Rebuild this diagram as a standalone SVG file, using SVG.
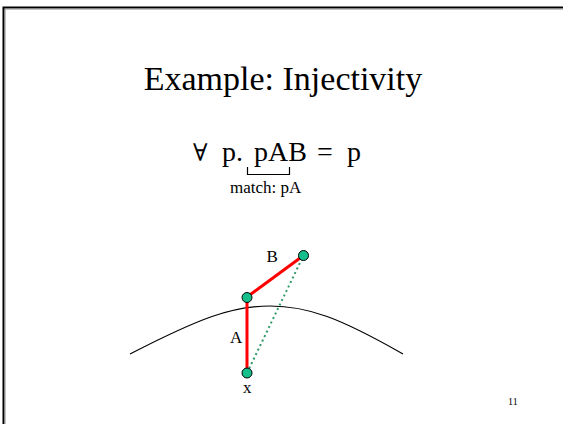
<svg xmlns="http://www.w3.org/2000/svg" width="563" height="424" viewBox="0 0 563 424">
<style>
.t{font-family:"Liberation Serif","Times New Roman",serif;fill:#000}
.node{fill:#14bf8c;stroke:#000;stroke-width:1}
.red{stroke:#ff0000;stroke-width:3;fill:none}
.dot{stroke:#2e9a68;stroke-width:2;stroke-dasharray:2 3;fill:none}
</style>
<rect width="563" height="424" fill="#fff"/>
<g id="frame" fill="none">
<path d="M3.5,424 V7.5 H563" stroke="#000" stroke-width="2"/>
<path d="M5,424 V9 H563" stroke="#888" stroke-width="1"/>
</g>
<g id="title"><text class="t" x="283" y="90" font-size="34" text-anchor="middle">Example: Injectivity</text></g>
<g id="formula">
<text class="t" font-size="28" y="161"><tspan x="193" font-family="DejaVu Serif, serif" font-size="24">∀</tspan><tspan x="222">p.</tspan><tspan x="254">pAB</tspan><tspan x="317">=</tspan><tspan x="347">p</tspan></text>
<path d="M247.5,167 V174.5 H289.5 V167" fill="none" stroke="#000" stroke-width="1.2"/>
<text class="t" x="230" y="193" font-size="17">match: pA</text>
</g>
<g id="curve"><path d="M130,354 C200,318 232,306 270,306 C308,306 340,318 403,354" fill="none" stroke="#000" stroke-width="1.2"/></g>
<g id="connectors">
<line class="red" x1="247" y1="373" x2="247" y2="297"/>
<line class="red" x1="247" y1="297" x2="303.5" y2="255.5"/>
<line class="dot" x1="247" y1="373" x2="303.5" y2="255.5"/>
</g>
<g id="node-top"><circle class="node" cx="303.5" cy="255.5" r="5"/></g>
<g id="node-mid"><circle class="node" cx="247" cy="297.5" r="5"/></g>
<g id="node-x"><circle class="node" cx="247" cy="373" r="5"/></g>
<g id="labels">
<text class="t" x="266.5" y="261.5" font-size="17">B</text>
<text class="t" x="230" y="342.5" font-size="17">A</text>
<text class="t" x="243" y="393" font-size="17">x</text>
<text class="t" x="508" y="405" font-size="10" fill="#333">11</text>
</g>
</svg>
